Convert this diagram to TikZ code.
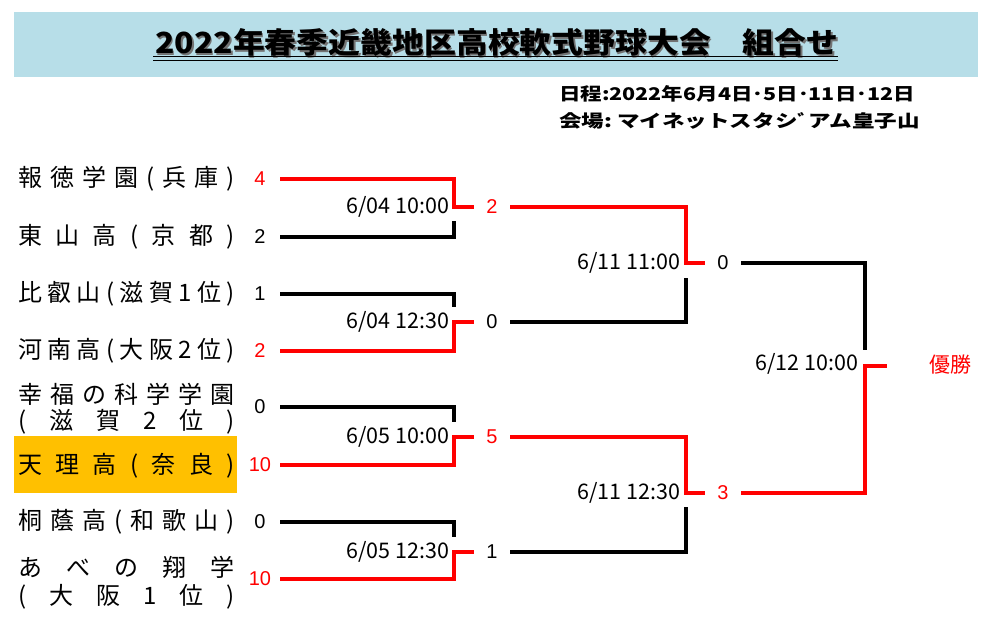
\documentclass[tikz,border=0pt]{standalone}
\usepackage{fontspec}
\setmainfont{Noto Sans CJK JP}
\newfontfamily\arialf{Liberation Sans}
\definecolor{titlebg}{HTML}{B7DEE8}
\definecolor{hilite}{HTML}{FFC000}
\definecolor{winred}{HTML}{FF0000}
\newcommand\nmspread[1]{\makebox[217pt][s]{#1}}
\begin{document}
\begin{tikzpicture}[x=1pt,y=-1pt,
  every node/.style={inner sep=0pt,outer sep=0pt},
  teamname/.style={anchor=west,font=\fontsize{24}{26}\selectfont},
  teamscore/.style={font=\arialf\fontsize{20}{20}\selectfont,minimum width=40pt},
  roundscore/.style={font=\arialf\fontsize{20}{20}\selectfont,minimum width=36pt},
  matchdate/.style={anchor=east,font=\fontsize{21.5}{22}\selectfont},
  winline/.style={draw=winred,line width=4pt},
  loseline/.style={draw=black,line width=4pt},
  redtext/.style={text=winred}]
\useasboundingbox (0,0) rectangle (997,622);
\fill[white] (0,0) rectangle (997,622);
% title bar
\fill[titlebg] (14,12) rectangle (978,77);
\node[text=black!55] (titleshadow) at (498.5,44) {\resizebox{683pt}{25pt}{\fontsize{30}{30}\selectfont\bfseries 2022年春季近畿地区高校軟式野球大会　組合せ}};
\node (title) at (497,42.5) {\resizebox{683pt}{25pt}{\fontsize{30}{30}\selectfont\bfseries 2022年春季近畿地区高校軟式野球大会　組合せ}};
\coordinate (ulA) at (153,56.5);
\coordinate (ulB) at (838,56.5);
\coordinate (ulC) at (153,60);
\coordinate (ulD) at (838,60);
\draw[line width=1.8pt] (ulA) -- (ulB);
\draw[line width=1pt] (ulC) -- (ulD);
% header info
\node[anchor=west] (sched) at (559,94) {\resizebox{356pt}{15pt}{\fontsize{20}{20}\selectfont\bfseries 日程:2022年6月4日･5日･11日･12日}};
\node[anchor=west] (venue) at (559,121) {\resizebox{361pt}{15pt}{\fontsize{20}{20}\selectfont\bfseries 会場:\ マイネットスタシﾞアム皇子山}};
% highlight
\fill[hilite] (14,436) rectangle (237,493);
% team names
\node[teamname] (n1) at (18,179) {\nmspread{報\hfil 徳\hfil 学\hfil 園\hfil (\hfil 兵\hfil 庫\hfil )}};
\node[teamname] (n2) at (18,237) {\nmspread{東\hfil 山\hfil 高\hfil (\hfil 京\hfil 都\hfil )}};
\node[teamname] (n3) at (18,294) {\nmspread{比\hfil 叡\hfil 山\hfil (\hfil 滋\hfil 賀\hfil 1\hfil 位\hfil )}};
\node[teamname] (n4) at (18,351) {\nmspread{河\hfil 南\hfil 高\hfil (\hfil 大\hfil 阪\hfil 2\hfil 位\hfil )}};
\node[teamname] (n5a) at (18,394) {\nmspread{幸\hfil 福\hfil の\hfil 科\hfil 学\hfil 学\hfil 園}};
\node[teamname] (n5b) at (18,422) {\nmspread{(\hfil 滋\hfil 賀\hfil 2\hfil 位\hfil )}};
\node[teamname] (n6) at (18,466) {\nmspread{天\hfil 理\hfil 高\hfil (\hfil 奈\hfil 良\hfil )}};
\node[teamname] (n7) at (18,522) {\nmspread{桐\hfil 蔭\hfil 高\hfil (\hfil 和\hfil 歌\hfil 山\hfil )}};
\node[teamname] (n8a) at (18,567) {\nmspread{あ\hfil べ\hfil の\hfil 翔\hfil 学}};
\node[teamname] (n8b) at (18,597) {\nmspread{(\hfil 大\hfil 阪\hfil 1\hfil 位\hfil )}};
% team scores
\node[teamscore,redtext] (s1) at (260,179) {4};
\node[teamscore] (s2) at (260,237) {2};
\node[teamscore] (s3) at (260,294) {1};
\node[teamscore,redtext] (s4) at (260,351) {2};
\node[teamscore] (s5) at (260,407) {0};
\node[teamscore,redtext] (s6) at (260,465) {10};
\node[teamscore] (s7) at (260,522) {0};
\node[teamscore,redtext] (s8) at (260,579) {10};
% round-1 result scores
\node[roundscore,redtext] (r1) at (492,207) {2};
\node[roundscore] (r2) at (492,322) {0};
\node[roundscore,redtext] (r3) at (492,437) {5};
\node[roundscore] (r4) at (492,552) {1};
% semifinal result scores
\node[roundscore] (f1) at (723,263) {0};
\node[roundscore,redtext] (f2) at (723,493) {3};
% champion
\node[redtext,font=\fontsize{21}{21}\selectfont] (champ) at (950,365) {優勝};
% dates
\node[matchdate] (d1) at (449,207) {6/04 10:00};
\node[matchdate] (d2) at (449,322) {6/04 12:30};
\node[matchdate] (d3) at (449,437) {6/05 10:00};
\node[matchdate] (d4) at (449,552) {6/05 12:30};
\node[matchdate] (d5) at (680,263) {6/11 11:00};
\node[matchdate] (d6) at (680,493) {6/11 12:30};
\node[matchdate] (d7) at (858,364) {6/12 10:00};
% junction coordinates
\coordinate (j1) at (454,207);
\coordinate (j1b) at (454,221);
\coordinate (j2) at (454,322);
\coordinate (j2b) at (454,307);
\coordinate (j3) at (454,437);
\coordinate (j3b) at (454,422);
\coordinate (j4) at (454,552);
\coordinate (j4b) at (454,537);
\coordinate (k1) at (686,263);
\coordinate (k1b) at (686,278);
\coordinate (k2) at (686,493);
\coordinate (k2b) at (686,507);
\coordinate (kf) at (865,366);
\coordinate (kfb) at (865,350);
\coordinate (kend) at (887,366);
% round 1
\draw[winline] (s1.east) -| (j1) -- (r1.west);
\draw[loseline] (s2.east) -| (j1b);
\draw[loseline] (s3.east) -| (j2b);
\draw[winline] (s4.east) -| (j2) -- (r2.west);
\draw[loseline] (s5.east) -| (j3b);
\draw[winline] (s6.east) -| (j3) -- (r3.west);
\draw[loseline] (s7.east) -| (j4b);
\draw[winline] (s8.east) -| (j4) -- (r4.west);
% semifinals
\draw[winline] (r1.east) -| (k1) -- (f1.west);
\draw[loseline] (r2.east) -| (k1b);
\draw[winline] (r3.east) -| (k2) -- (f2.west);
\draw[loseline] (r4.east) -| (k2b);
% final
\draw[loseline] (f1.east) -| (kfb);
\draw[winline] (f2.east) -| (kf) -- (kend);
\end{tikzpicture}
\end{document}
